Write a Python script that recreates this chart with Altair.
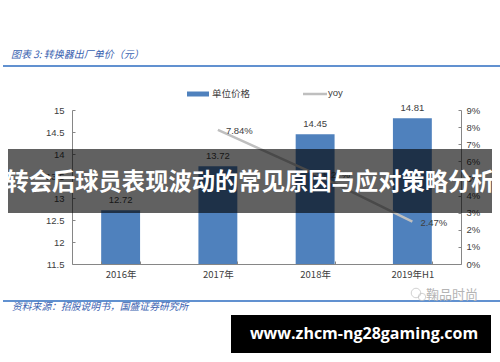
import altair as alt
import pandas as pd

# ---- data ----
categories = ["2016年", "2017年", "2018年", "2019年H1"]
unit_price = [12.72, 13.72, 14.45, 14.81]
yoy_pct = [None, 7.84, 5.27, 2.47]
left_ticks = [11.5, 12, 12.5, 13, 13.5, 14, 14.5, 15]
right_ticks = [0, 1, 2, 3, 4, 5, 6, 7, 8, 9]

title_text = "图表 3:  转换器出厂单价（元）"
source_text = "资料来源：招股说明书，国盛证券研究所"
legend_bar = "单位价格"
legend_line = "yoy"
banner_text = "转会后球员表现波动的常见原因与应对策略分析"
url_text = "www.zhcm-ng28gaming.com"
wm_text = "鞠品时尚"

df = pd.DataFrame({"cat": categories, "price": unit_price, "yoy": yoy_pct})
one = pd.DataFrame({"k": [0]})

BLUE = "#4f81bd"
GRAY_LINE = "#bfbfbf"
TXT = "#404040"
AX = "#868686"
FONT = "Liberation Sans"
CJK = "Noto Sans CJK SC"

xenc = alt.X(
    "cat:N",
    sort=categories,
    scale=alt.Scale(paddingInner=0.6, paddingOuter=0.3),
    axis=alt.Axis(
        title=None, labelAngle=0, labelFontSize=9.5, labelColor=TXT, labelFont=CJK,
        domainColor=AX, tickColor=AX, tickSize={"expr": "-3"}, tickBand="extent",
        labelPadding=8, zindex=1,
    ),
)

left_axis = alt.Axis(
    orient="left", title=None, values=left_ticks, grid=False,
    labelExpr="format(datum.value, '~g')",
    labelFontSize=9.5, labelColor=TXT, labelFont=FONT, labelOverlap=False,
    domainColor=AX, tickColor=AX, tickSize={"expr": "-3"}, labelPadding=11,
)
left_scale = alt.Scale(domain=[11.5, 15], nice=False, zero=False)

bars = alt.Chart(df).mark_bar(color=BLUE, clip=True).encode(
    x=xenc, y=alt.Y("price:Q", scale=left_scale, axis=left_axis)
)
bar_text = alt.Chart(df).mark_text(
    dy=-7, fontSize=9.5, color=TXT, font=FONT, baseline="alphabetic"
).encode(
    x=alt.X("cat:N", sort=categories),
    y=alt.Y("price:Q", scale=left_scale, axis=left_axis),
    text=alt.Text("price:Q", format=".2f"),
)
left_layer = alt.layer(bars, bar_text)

right_axis = alt.Axis(
    orient="right", title=None, values=right_ticks, grid=False,
    labelExpr="datum.value + '%'", labelOverlap=False,
    labelFontSize=9.5, labelColor=TXT, labelFont=FONT,
    domainColor=AX, tickColor=AX, tickSize={"expr": "-3"}, labelPadding=8,
)
right_scale = alt.Scale(domain=[0, 9], nice=False)

line = alt.Chart(df).transform_filter("datum.yoy != null").mark_line(
    color=GRAY_LINE, strokeWidth=2.5
).encode(
    x=alt.X("cat:N", sort=categories),
    y=alt.Y("yoy:Q", scale=right_scale, axis=right_axis),
)
line_text = alt.Chart(df).transform_filter("datum.yoy != null").transform_calculate(
    lab="format(datum.yoy, '.2f') + '%'"
).mark_text(
    align="left", baseline="middle", dx=8, dy=1, fontSize=9.5, color=TXT, font=FONT
).encode(
    x=alt.X("cat:N", sort=categories),
    y=alt.Y("yoy:Q", scale=right_scale, axis=right_axis),
    text="lab:N",
)
right_layer = alt.layer(line, line_text)

core = alt.layer(left_layer, right_layer).resolve_scale(y="independent")

# ---- decorations (pixel positions relative to plot origin at 72,110) ----
def txt(s, x, y, **kw):
    return alt.Chart(one).mark_text(**kw).encode(
        x=alt.value(x), y=alt.value(y), text=alt.value(s)
    )

title = txt(title_text, -61, -55, align="left", baseline="middle", fontSize=10,
            font=CJK, fontStyle="italic", color="#3a62b0")
top_rule = alt.Chart(one).mark_rule(color="#2c6cc0", strokeWidth=1.5).encode(
    x=alt.value(-69), x2=alt.value(428), y=alt.value(-44))
bot_rule = alt.Chart(one).mark_rule(color="#2c6cc0", strokeWidth=1.5).encode(
    x=alt.value(-69), x2=alt.value(428), y=alt.value(191))
source = txt(source_text, -60, 197, align="left", baseline="middle", fontSize=9.8,
             font=CJK, fontStyle="italic", color="#3a62b0")

leg_rect = alt.Chart(one).mark_rect(color=BLUE).encode(
    x=alt.value(115), x2=alt.value(137), y=alt.value(-18.5), y2=alt.value(-13.5))
leg_t1 = txt(legend_bar, 140, -16, align="left", baseline="middle", fontSize=9.5,
             font=CJK, color=TXT)
leg_line = alt.Chart(one).mark_rule(color=GRAY_LINE, strokeWidth=2.5).encode(
    x=alt.value(231), x2=alt.value(255), y=alt.value(-16))
leg_t2 = txt(legend_line, 256, -17, align="left", baseline="middle", fontSize=9.5,
             font=FONT, color=TXT)

wm = txt(wm_text, 354, 185, align="left", baseline="middle", fontSize=13,
         font=CJK, color="#b4b4b4")
wm_c1 = alt.Chart(one).mark_point(shape="circle", size=90, color="#c0c0c0",
                                  strokeWidth=1).encode(x=alt.value(344), y=alt.value(183))
wm_c2 = alt.Chart(one).mark_point(shape="circle", size=55, color="#c0c0c0",
                                  strokeWidth=1).encode(x=alt.value(350), y=alt.value(187))

banner = alt.Chart(one).mark_rect(color="#000000", opacity=0.62).encode(
    x=alt.value(-64), x2=alt.value(420), y=alt.value(39), y2=alt.value(103))
banner_t = txt(banner_text, 178, 73, align="center", baseline="middle", fontSize=23.3,
               font=CJK, fontWeight="bold", color="#ffffff")

url_box = alt.Chart(one).mark_rect(color="#000000").encode(
    x=alt.value(159), x2=alt.value(419), y=alt.value(205), y2=alt.value(243))
url_t = txt(url_text, 292, 224, align="center", baseline="middle", fontSize=16,
            font="Open Sans", fontWeight="bold", color="#ffffff")

chart = alt.layer(
    core, title, top_rule, bot_rule, source, leg_rect, leg_t1, leg_line, leg_t2,
    wm, wm_c1, wm_c2, banner, banner_t, url_box, url_t,
).properties(
    width=389, height=154,
    padding={"left": 72, "top": 110, "right": 39, "bottom": 98},
    autosize=alt.AutoSizeParams(type="none"),
    background="white",
).configure_view(strokeWidth=0)

chart.save("out.html", embed_options={"renderer": "svg", "actions": False})
